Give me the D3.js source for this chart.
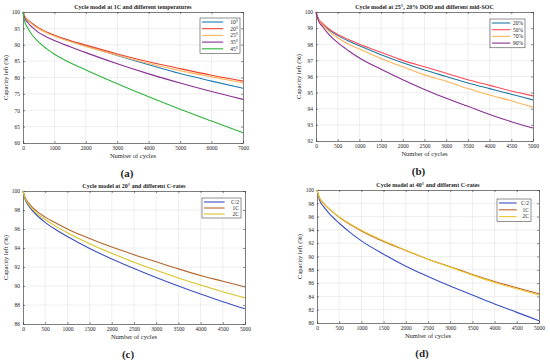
<!DOCTYPE html>
<html>
<head>
<meta charset="utf-8">
<title>Cycle model</title>
<script src="https://d3js.org/d3.v7.min.js"></script>
<style>
  body { margin: 0; background: #fff; }
  text { font-family: "Liberation Serif", "DejaVu Serif", serif; fill: #262626; }
</style>
</head>
<body>
<div id="chart"></div>
<script>
// ---- (a) 1C and different temperatures
var cyclesA = [0, 50, 150, 300, 500, 750, 1000, 1500, 2000, 3000, 4000, 5000, 6000, 7000];
var tempNames = ["10°", "20°", "25°", "35°", "45°"];
var cap10 = [100, 98.7, 97.6, 96.4, 95.0, 93.8, 92.8, 91.1, 89.6, 86.7, 83.9, 81.2, 78.9, 76.7];
var cap20 = [100, 98.7, 97.6, 96.4, 95.1, 93.9, 92.9, 91.3, 89.9, 87.2, 84.8, 82.7, 80.7, 78.9];
var cap25 = [100, 98.6, 97.5, 96.2, 94.9, 93.7, 92.7, 91.0, 89.5, 86.8, 84.3, 82.1, 80.2, 78.4];
var cap35 = [100, 98.2, 96.8, 95.3, 93.7, 92.4, 91.3, 89.4, 87.6, 84.2, 81.1, 78.3, 75.7, 73.3];
var cap45 = [100, 97.2, 95.1, 92.9, 90.8, 88.8, 87.1, 84.5, 82.3, 78.1, 74.1, 70.3, 66.7, 63.1];
var xTicksA = [0, 1000, 2000, 3000, 4000, 5000, 6000, 7000];
var yTicksA = [60, 65, 70, 75, 80, 85, 90, 95, 100];

// ---- (b) 25°, 20% DOD and different mid-SOC
var cyclesB = [0, 50, 150, 300, 500, 750, 1000, 1500, 2000, 2500, 3000, 3500, 4000, 4500, 5000];
var socNames = ["20%", "50%", "70%", "90%"];
var soc20 = [100, 99.6, 99.25, 98.9, 98.55, 98.2, 97.9, 97.35, 96.85, 96.4, 96.0, 95.6, 95.25, 94.9, 94.55];
var soc50 = [100, 99.6, 99.3, 98.95, 98.6, 98.3, 98.0, 97.5, 97.0, 96.6, 96.2, 95.8, 95.45, 95.1, 94.8];
var soc70 = [100, 99.55, 99.2, 98.8, 98.4, 98.0, 97.7, 97.1, 96.6, 96.1, 95.7, 95.25, 94.85, 94.5, 94.1];
var soc90 = [100, 99.5, 99.1, 98.6, 98.1, 97.6, 97.15, 96.45, 95.8, 95.2, 94.65, 94.15, 93.65, 93.2, 92.8];
var xTicks5k = [0, 500, 1000, 1500, 2000, 2500, 3000, 3500, 4000, 4500, 5000];
var yTicksB = [92, 93, 94, 95, 96, 97, 98, 99, 100];

// ---- (c) 20° and different C-rates
var cyclesC = cyclesB;
var rateNames = ["C/2", "1C", "2C"];
var c20Half = [100, 99.1, 98.3, 97.5, 96.7, 95.9, 95.2, 93.95, 92.85, 91.85, 90.9, 90.0, 89.15, 88.35, 87.6];
var c20One  = [100, 99.3, 98.6, 97.9, 97.25, 96.6, 96.0, 95.0, 94.1, 93.3, 92.55, 91.8, 91.1, 90.5, 89.9];
var c20Two  = [100, 99.2, 98.45, 97.7, 97.0, 96.25, 95.6, 94.45, 93.45, 92.5, 91.65, 90.85, 90.1, 89.4, 88.75];
var yTicksC = [86, 88, 90, 92, 94, 96, 98, 100];

// ---- (d) 40° and different C-rates
var c40Half = [100, 98.6, 97.5, 96.3, 95.0, 93.6, 92.35, 90.35, 88.55, 87.0, 85.55, 84.2, 82.85, 81.6, 80.35];
var c40One  = [100, 98.9, 98.0, 97.0, 95.9, 94.8, 93.85, 92.25, 90.9, 89.6, 88.45, 87.3, 86.25, 85.3, 84.4];
var c40Two  = [100, 98.9, 98.0, 97.0, 95.95, 94.9, 93.95, 92.35, 90.95, 89.6, 88.4, 87.2, 86.1, 85.15, 84.2];
var yTicksD = [80, 82, 84, 86, 88, 90, 92, 94, 96, 98, 100];

var panels = [
  { letter: "(a)", title: "Cycle model at 1C and different temperatures",
    cycles: cyclesA, names: tempNames, series: [cap10, cap20, cap25, cap35, cap45],
    colors: ["#1f7bb6", "#f0402c", "#ffb45a", "#8a2f94", "#2fb43c"],
    xTicks: xTicksA, yTicks: yTicksA,
    box: { l: 23, r: 243, t: 12, b: 143 }, leg: { x: 200, y: 18, w: 40, row: 6.7 } },
  { letter: "(b)", title: "Cycle model at 25°, 20% DOD and different mid-SOC",
    cycles: cyclesB, names: socNames, series: [soc20, soc50, soc70, soc90],
    colors: ["#1f7ba0", "#ff4a5a", "#ffb45a", "#8a2f94"],
    xTicks: xTicks5k, yTicks: yTicksB,
    box: { l: 316, r: 533, t: 12, b: 141 }, leg: { x: 490, y: 19, w: 35, row: 6.7 } },
  { letter: "(c)", title: "Cycle model at 20° and different C-rates",
    cycles: cyclesC, names: rateNames, series: [c20Half, c20One, c20Two],
    colors: ["#3b4fc4", "#b5652e", "#d8c428"],
    xTicks: xTicks5k, yTicks: yTicksC,
    box: { l: 23, r: 245, t: 191, b: 324 }, leg: { x: 202, y: 198, w: 39, row: 6 } },
  { letter: "(d)", title: "Cycle model at 40° and different C-rates",
    cycles: cyclesC, names: rateNames, series: [c40Half, c40One, c40Two],
    colors: ["#3b4fc4", "#c0602a", "#e8c830"],
    xTicks: xTicks5k, yTicks: yTicksD,
    box: { l: 317, r: 539, t: 190, b: 323 }, leg: { x: 497, y: 199, w: 34, row: 6.8 } }
];

var svg = d3.select("#chart").append("svg")
  .attr("width", 550).attr("height", 363)
  .style("display", "block");

function drawPanel(p) {
  var b = p.box;
  var g = svg.append("g");
  var x = d3.scaleLinear().domain(d3.extent(p.xTicks)).range([b.l, b.r]);
  var y = d3.scaleLinear().domain(d3.extent(p.yTicks)).range([b.b, b.t]);

  // grid
  g.selectAll(".gx").data(p.xTicks.slice(1, -1)).enter().append("line")
    .attr("x1", x).attr("x2", x).attr("y1", b.t).attr("y2", b.b)
    .attr("stroke", "#dcdcdc").attr("stroke-width", 0.5);
  g.selectAll(".gy").data(p.yTicks.slice(1, -1)).enter().append("line")
    .attr("y1", y).attr("y2", y).attr("x1", b.l).attr("x2", b.r)
    .attr("stroke", "#dcdcdc").attr("stroke-width", 0.5);

  // axes, ticks pointing inwards on all four sides
  var fmt = d3.format("d");
  var ax = [
    [d3.axisBottom(x).tickValues(p.xTicks).tickFormat(fmt), b.b, 0],
    [d3.axisTop(x).tickValues(p.xTicks).tickFormat(""), b.t, 0],
    [d3.axisLeft(y).tickValues(p.yTicks).tickFormat(fmt), 0, b.l],
    [d3.axisRight(y).tickValues(p.yTicks).tickFormat(""), 0, b.r]
  ];
  ax.forEach(function(a) {
    var sel = g.append("g")
      .attr("transform", "translate(" + a[2] + "," + a[1] + ")")
      .call(a[0].tickSizeInner(-2).tickSizeOuter(0).tickPadding(3));
    sel.select(".domain").attr("stroke", "#262626").attr("stroke-width", 0.6);
    sel.selectAll(".tick line").attr("stroke", "#262626").attr("stroke-width", 0.5);
    sel.selectAll("text").style("font-size", "5.5px").attr("fill", "#262626")
      .style("font-family", "Liberation Serif, serif");
  });

  // curves
  var line = d3.line()
    .x(function(d, i) { return x(p.cycles[i]); })
    .y(function(d) { return y(d); })
    .curve(d3.curveMonotoneX);
  p.series.forEach(function(s, k) {
    g.append("path").attr("d", line(s))
      .attr("fill", "none").attr("stroke", p.colors[k]).attr("stroke-width", 1.1);
  });

  // titles / labels
  var cx = (b.l + b.r) / 2;
  g.append("text").attr("x", cx).attr("y", b.t - 3)
    .attr("text-anchor", "middle").style("font-size", "6px").style("font-weight", "bold")
    .text(p.title);
  g.append("text").attr("x", cx).attr("y", b.b + 15)
    .attr("text-anchor", "middle").style("font-size", "6.5px")
    .text("Number of cycles");
  g.append("text")
    .attr("transform", "translate(" + (b.l - 15) + "," + ((b.t + b.b) / 2) + ") rotate(-90)")
    .attr("text-anchor", "middle").style("font-size", "6.5px")
    .text("Capacity left (%)");
  g.append("text").attr("x", cx - 6).attr("y", b.b + 34)
    .attr("text-anchor", "middle").style("font-size", "11px").style("font-weight", "bold")
    .attr("fill", "#000")
    .text(p.letter);

  // legend
  var L = p.leg;
  var n = p.names.length;
  g.append("rect").attr("x", L.x).attr("y", L.y).attr("width", L.w)
    .attr("height", L.row * n + 2)
    .attr("fill", "#fff").attr("stroke", "#262626").attr("stroke-width", 0.5);
  p.names.forEach(function(nm, k) {
    var yy = L.y + 4 + L.row * k;
    g.append("line").attr("x1", L.x + 2).attr("x2", L.x + L.w * 0.58)
      .attr("y1", yy).attr("y2", yy)
      .attr("stroke", p.colors[k]).attr("stroke-width", 1.1);
    g.append("text").attr("x", L.x + L.w - 2).attr("y", yy + 1.8)
      .attr("text-anchor", "end").style("font-size", "5.5px")
      .text(nm);
  });
}

panels.forEach(drawPanel);
</script>
</body>
</html>
